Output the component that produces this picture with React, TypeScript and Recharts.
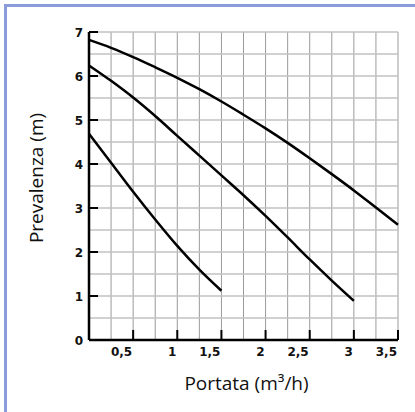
import { CartesianGrid, Label, Line, LineChart, XAxis, YAxis } from "recharts";

// flow (m3/h) and head (m) for the three speed curves
const flowHigh = [0, 0.25, 0.5, 0.75, 1, 1.25, 1.5, 1.75, 2, 2.25, 2.5, 2.75, 3, 3.25, 3.5];
const headHigh = [6.82, 6.64, 6.43, 6.2, 5.96, 5.7, 5.42, 5.12, 4.81, 4.48, 4.13, 3.77, 3.4, 3.01, 2.62];

const flowMid = [0, 0.25, 0.5, 0.75, 1, 1.25, 1.5, 1.75, 2, 2.25, 2.5, 2.75, 3];
const headMid = [6.24, 5.89, 5.51, 5.09, 4.64, 4.19, 3.74, 3.29, 2.82, 2.33, 1.83, 1.35, 0.89];

const flowLow = [0, 0.25, 0.5, 0.75, 1, 1.25, 1.5];
const headLow = [4.69, 4.03, 3.37, 2.74, 2.14, 1.6, 1.12];

const xTicks = [0, 0.25, 0.5, 0.75, 1, 1.25, 1.5, 1.75, 2, 2.25, 2.5, 2.75, 3, 3.25, 3.5];
const yTicks = [0, 0.5, 1, 1.5, 2, 2.5, 3, 3.5, 4, 4.5, 5, 5.5, 6, 6.5, 7];

const toPoints = (xs: number[], ys: number[]) => xs.map((q, i) => ({ q, h: ys[i] }));

const tickFont = { fontFamily: "'DejaVu Sans', sans-serif", fontWeight: 700, fontSize: 12, fill: "#111" };
const titleFont = { fontFamily: "'Open Sans', sans-serif", fontSize: 19, fill: "#111" };

function XTick(props: any) {
  const { x, y, payload } = props;
  const v = payload.value as number;
  if (v === 0 || Math.round(v * 2) !== v * 2) return <g />;
  return (
    <g>
      <line x1={x} x2={x} y1={y - 10} y2={y} stroke="#000" strokeWidth={2} />
      <text x={x - 1} y={y + 16} textAnchor="end" {...tickFont}>
        {String(v).replace(".", ",")}
      </text>
    </g>
  );
}

function YTick(props: any) {
  const { x, y, payload } = props;
  const v = payload.value as number;
  if (!Number.isInteger(v)) return <g />;
  return (
    <g>
      {v > 0 && <line x1={x} x2={x + 9} y1={y} y2={y} stroke="#000" strokeWidth={2} />}
      <text x={x - 6} y={y + 4.5} textAnchor="end" {...tickFont}>
        {v}
      </text>
    </g>
  );
}

export default function App() {
  return (
    <div style={{ position: "absolute", left: 0, top: 0, width: 415, height: 412, background: "#fff" }}>
      <div
        style={{
          position: "absolute",
          left: 4,
          top: 4,
          width: 411,
          height: 408,
          borderLeft: "3px solid #8c9cdb",
          borderTop: "3px solid #8c9cdb",
          boxSizing: "border-box",
        }}
      />
      <div style={{ position: "absolute", left: 0, top: 0 }}>
        <LineChart width={415} height={412} margin={{ top: 32, right: 17, bottom: 42, left: 49 }}>
          <CartesianGrid horizontal={false} stroke="#9a9a9a" strokeWidth={1} />
          <CartesianGrid vertical={false} stroke="#c2c2c2" strokeWidth={1.5} />
          <XAxis
            type="number"
            dataKey="q"
            domain={[0, 3.5]}
            ticks={xTicks}
            interval={0}
            height={30}
            tickSize={0}
            tickMargin={0}
            tickLine={false}
            tick={<XTick />}
            axisLine={{ stroke: "#000", strokeWidth: 2.5 }}
          >
            <Label
              content={({ viewBox }: any) => (
                <text x={viewBox.x + viewBox.width / 2 + 3} y={viewBox.y + 50} textAnchor="middle" {...titleFont}>
                  Portata (m³/h)
                </text>
              )}
            />
          </XAxis>
          <YAxis
            type="number"
            domain={[0, 7]}
            ticks={yTicks}
            interval={0}
            width={40}
            tickSize={0}
            tickMargin={0}
            tickLine={false}
            tick={<YTick />}
            axisLine={{ stroke: "#000", strokeWidth: 2.5 }}
          >
            <Label
              content={() => (
                <text x={43} y={178} textAnchor="middle" transform="rotate(-90, 43, 178)" {...titleFont}>
                  Prevalenza (m)
                </text>
              )}
            />
          </YAxis>
          <Line data={toPoints(flowHigh, headHigh)} dataKey="h" type="monotone" stroke="#000" strokeWidth={2.5} dot={false} isAnimationActive={false} />
          <Line data={toPoints(flowMid, headMid)} dataKey="h" type="monotone" stroke="#000" strokeWidth={2.5} dot={false} isAnimationActive={false} />
          <Line data={toPoints(flowLow, headLow)} dataKey="h" type="monotone" stroke="#000" strokeWidth={2.5} dot={false} isAnimationActive={false} />
        </LineChart>
      </div>
    </div>
  );
}
